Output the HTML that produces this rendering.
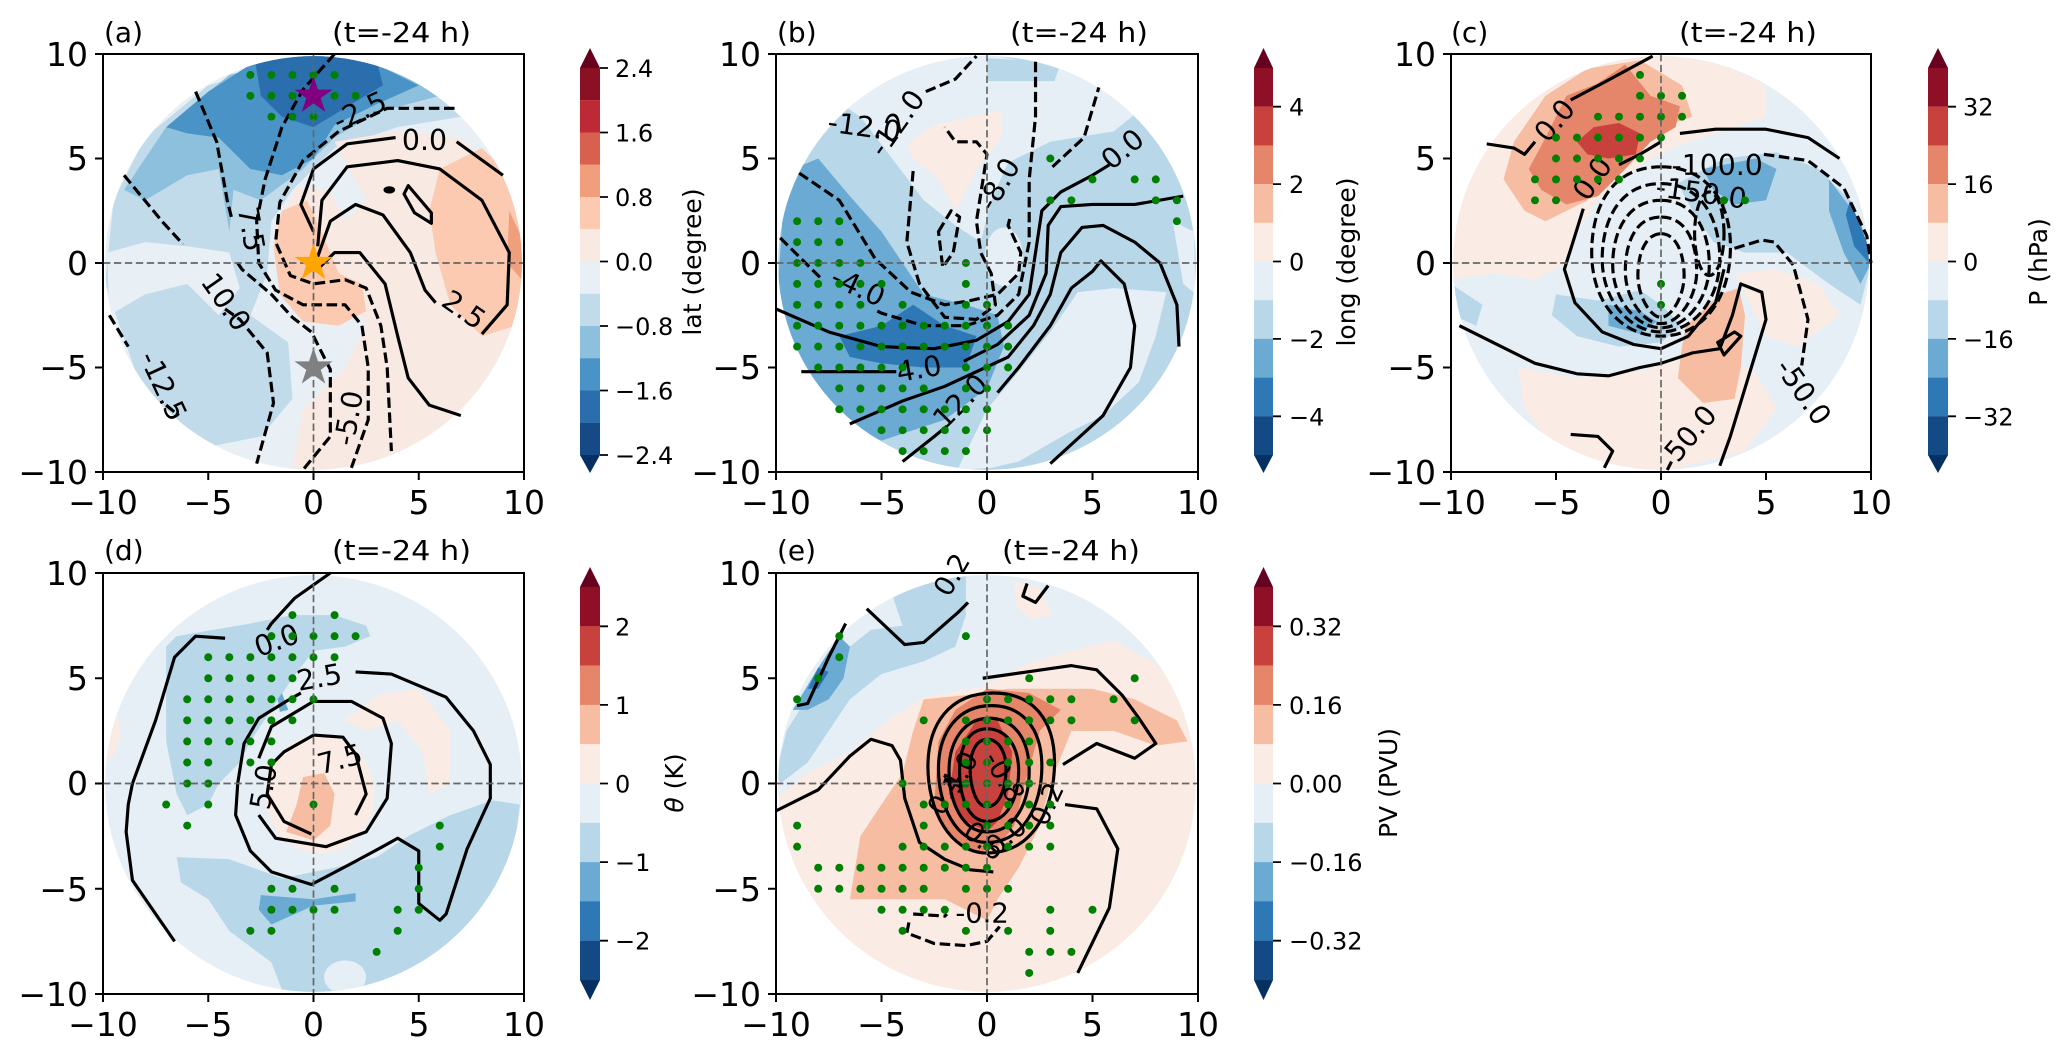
<!DOCTYPE html>
<html><head><meta charset="utf-8"><style>
html,body{margin:0;padding:0;background:#fff}
svg{display:block}
text{font-family:"DejaVu Sans","Liberation Sans",sans-serif;fill:#000}
</style></head><body>
<svg width="2067" height="1053" viewBox="0 0 2067 1053" xmlns="http://www.w3.org/2000/svg">
<defs>
<clipPath id="cc"><circle cx="0" cy="0" r="9.9"/></clipPath>
</defs>
<rect width="2067" height="1053" fill="#fff"/>

<!-- ================= PANEL A ================= -->
<svg x="103" y="54" width="421" height="418" viewBox="-10 -10 20 20" preserveAspectRatio="none" overflow="visible">
<g clip-path="url(#cc)"><g transform="scale(1,-1)">
<circle r="10" fill="#e8f0f6"/>
<path d="M-9.9,-1 L-9.5,3 L-8,6 L-5,8.5 L0,10 L5,8.8 L7,7 L4,6.5 L1,5.5 L-1,3.5 L-2,2 L-2.2,-0.5 L-3,-2.5 L-1.2,-3.8 L-1,-6.5 L-2.5,-8.3 L-5,-8.8 L-8,-6.5 Z" fill="#c2dbeb"/>
<path d="M-9.7,-2.5 L-8,-1.5 L-6,-1 L-4.5,-2.5 L-3.5,-1.2 L-4,0.5 L-6,0.8 L-8,1 L-9.8,0.5 Z" fill="#e8f0f6"/>
<path d="M-9,3.5 L-7,6.5 L-4,9 L0,10 L4,9.3 L6,8 L3,7.2 L1,6 L-0.5,4.5 L-2.5,3 L-3.8,3.5 L-4,1.5 L-4.5,4.5 L-6,4.2 L-8,3 Z" fill="#8cc0dd"/>
<path d="M-7,6.5 L-5,8.2 L-3,9.5 L0,10 L3,9.5 L5,8.5 L3,7.6 L1,6.6 L0,5 L-1.5,4.2 L-3,4.5 L-4.5,6 L-6,6.2 Z" fill="#4a93c6"/>
<path d="M-2.8,9.8 L0,10 L3,9.7 L3.3,8.5 L1.8,7.6 L0,6.5 L-1.5,7 L-2.5,8 Z" fill="#2a6eae"/>
<path d="M1,5.8 L4,6.3 L7,6 L9,4 L10,0 L9.5,-4 L7,-7.5 L4,-9.3 L1,-10 L-1,-9.8 L-0.5,-7 L1.5,-5 L2.5,-3 L1.5,-1.2 L0,-0.8 L-1.5,-0.3 L-1.8,1.8 L-0.8,3.6 L0.8,3.5 L1.5,2 L2.5,3 Z" fill="#f8e9e2"/>
<path d="M-1.9,0.8 L-1.5,2.5 L-0.3,3 L0.5,1.2 L1.2,-0.5 L2.3,-1 L2.5,-2.3 L1.2,-3 L-0.5,-2.8 L-1.6,-1.5 Z" fill="#fbcab0"/>
<path d="M6,4.5 L8,5.5 L9.5,4 L10,0 L9.6,-3 L8,-3.5 L6.5,-2 L5.8,0.5 L5.5,2.5 Z" fill="#fbcab0"/>
<path d="M9.3,2.5 L10,1 L9.9,-0.8 L9.2,0 Z" fill="#f09e7c"/>
</g></g>
<g transform="scale(1,-1)" fill="none" stroke="#000" stroke-width="0.15" stroke-linejoin="round">
<g stroke-dasharray="0.5 0.22">
<polyline points="6.7,7.4 3.5,7.4 1.2,6.3 -0.5,4.9 -1.6,2.9 -1.8,1 -1.1,-0.6 0,-1 1.5,-0.8 2.5,-1.2 3.2,-3 3.5,-5 3.7,-9"/>
<polyline points="1,10 -0.5,8.3 -1.5,6.5 -2.3,4 -2.7,2 -2.6,0 -1.8,-1.3 -0.5,-2 1.5,-2 2.3,-3 2.6,-5 2.6,-7.5 1.8,-9.8"/>
<polyline points="-5.6,8.2 -4.6,5.8 -4.1,3 -3.9,2.2"/>
<polyline points="-3.6,0 -3.4,-0.3 -2,-1.5 -1,-2.6 -0.1,-3.3 0.8,-5.1 0.8,-8.3 -0.5,-9.9"/>
<polyline points="-9,4.2 -7.2,2 -6.2,0.9"/>
<polyline points="-4.2,-2.2 -3.5,-2.7 -2.2,-4.3 -1.9,-6.7 -2.7,-9.6"/>
<polyline points="-9.7,-2.5 -8.8,-4"/>
<polyline points="-7,-6.8 -6.4,-7.3"/>
</g>
<polyline points="0,1.5 -0.6,2.8 0,4.5 1.6,5.7 3.9,6"/>
<polyline points="6.8,5.8 9,4.2"/>
<polyline points="0.2,0.8 0.4,3 1.6,4.6 4,4.9 6,4.5 8,3 9.3,0.5 9.2,-2 8,-3.4"/>
<polyline points="0.2,0.3 0.8,2 2,2.8 3.3,2.3 4.6,0.5 5.3,-1.3 5.8,-1.9"/>
<polyline points="0.2,-0.3 1,0.5 2.2,0.5 3.4,-1 4,-3.5 4.5,-5.5 5.5,-6.8 7,-7.3"/>
<polygon points="4.3,3.3 4.8,2.4 5.6,1.9 5.6,2.4 4.5,3.7"/>
<ellipse cx="3.6" cy="3.5" rx="0.2" ry="0.1" fill="#000"/>
</g>
<g font-size="1.35">
<text x="4.2" y="-5.4">0.0</text>
<text transform="translate(1.2,-6.3) rotate(-25)">-2.5</text>
<text transform="translate(-3.6,-2.6) rotate(80)">7.5</text>
<text transform="translate(-5.4,0.9) rotate(55)">10.0</text>
<text transform="translate(-8.3,4.5) rotate(65)">-12.5</text>
<text transform="translate(1.9,8.8) rotate(-80)">-5.0</text>
<text transform="translate(6.0,2.0) rotate(35)">2.5</text>
</g>
<g transform="scale(1,-1)" fill="#008000">
<circle cx="-3" cy="9" r="0.19"/><circle cx="-2" cy="9" r="0.19"/><circle cx="-1" cy="9" r="0.19"/><circle cx="0" cy="9" r="0.19"/><circle cx="1" cy="9" r="0.19"/>
<circle cx="-3" cy="8" r="0.19"/><circle cx="-2" cy="8" r="0.19"/><circle cx="-1" cy="8" r="0.19"/><circle cx="1" cy="8" r="0.19"/><circle cx="2" cy="8" r="0.19"/>
<circle cx="-2" cy="7" r="0.19"/><circle cx="-1" cy="7" r="0.19"/><circle cx="0" cy="7" r="0.19"/>
</g>
<g stroke="#666" stroke-width="0.08" stroke-dasharray="0.35 0.17"><line x1="-10" y1="0" x2="10" y2="0"/><line x1="0" y1="-10" x2="0" y2="10"/></g>
<g transform="scale(1,-1)">
<polygon transform="translate(0,8) scale(0.95)" points="0,1 0.225,0.31 0.95,0.31 0.36,-0.12 0.59,-0.81 0,-0.38 -0.59,-0.81 -0.36,-0.12 -0.95,0.31 -0.225,0.31" fill="#800080"/>
<polygon transform="translate(0,0) scale(0.95)" points="0,1 0.225,0.31 0.95,0.31 0.36,-0.12 0.59,-0.81 0,-0.38 -0.59,-0.81 -0.36,-0.12 -0.95,0.31 -0.225,0.31" fill="#ffa500"/>
<polygon transform="translate(0,-5) scale(0.95)" points="0,1 0.225,0.31 0.95,0.31 0.36,-0.12 0.59,-0.81 0,-0.38 -0.59,-0.81 -0.36,-0.12 -0.95,0.31 -0.225,0.31" fill="#808080"/>
</g>
</svg>

<!-- ================= PANEL B ================= -->
<svg x="776" y="54" width="422" height="418" viewBox="-10 -10 20 20" preserveAspectRatio="none" overflow="visible">
<g clip-path="url(#cc)"><g transform="scale(1,-1)">
<circle r="10" fill="#b8d7e9"/>
<path d="M-7.5,8 L-5,9.5 L0,10 L5,9 L7.5,7.5 L6,6.3 L3,5.8 L1,4.8 L0.2,3 L-0.3,1 L-1.5,1.8 L-3,3 L-4.5,5 L-6,7 Z" fill="#e6eff5"/>
<path d="M0,9.8 L3.5,9.6 L3.2,8.7 L0,8.7 Z" fill="#b8d7e9"/>
<path d="M-3.8,5.7 L-2.5,6.6 L0.7,7.3 L0.7,6 L-0.5,4.5 L-1.5,2.5 L-2.3,4 L-3.5,5 Z" fill="#faece4"/>
<path d="M-1.4,-9.9 L0,-7 L1.5,-5.2 L3,-3.3 L4.3,-1.4 L6,-1.2 L8.5,-1.4 L8,-3.5 L7.2,-5.7 L5.5,-7.3 L3.9,-8.1 L1.5,-9.5 L0.2,-9.8 Z" fill="#e6eff5"/>
<ellipse cx="0.8" cy="0.3" rx="0.9" ry="1.4" fill="#e6eff5"/>
<path d="M8.8,2 L9.8,1.5 L9.9,-1.5 L9.3,-1 Z" fill="#e6eff5"/>
<path d="M-9.9,-1 L-9.7,2 L-9.2,4.5 L-8,5 L-6.5,3.2 L-5,1.5 L-4,0 L-3,-1.5 L-1,-2 L0.5,-2.5 L0.8,-4 L0,-6 L-2,-7.5 L-5,-8.5 L-7.5,-7.5 L-9,-5 L-9.8,-3 Z" fill="#6aaad3"/>
<path d="M-7,-3.5 L-5,-3 L-3.5,-2 L-2,-3 L-0.5,-3.5 L-1,-5 L-3,-5 L-5,-4.8 L-6.5,-4.5 Z" fill="#2f78b6"/>
</g></g>
<g transform="scale(1,-1)" fill="none" stroke="#000" stroke-width="0.15" stroke-linejoin="round">
<g stroke-dasharray="0.5 0.22">
<polyline points="-8.9,4.3 -7,3 -5.3,0.2 -3.6,-1.4 -2,-2 -0.8,-1.8 0.5,-1.5 1.5,-0.5 1.6,0.5 1,1.8 1.1,2.2"/>
<polyline points="3.1,4.6 4.6,6 5.3,8.4"/>
<polyline points="-9.8,1.2 -8.6,0 -7.8,-0.8"/>
<polyline points="-5.2,-2.3 -5,-2.4 -3,-3 -1,-3 0.5,-2.5 1.5,-1.5 2,1 2,4 2.3,7 2.3,9.7"/>
<polyline points="-3.5,4.4 -3.8,1 -3.2,-1 -2,-2.6 -0.5,-2.7 0.4,-2 0.2,-0.5 -0.3,0.5 -0.5,2 0,5.2 -0.5,5.8 -1.5,5.8 -2,6.5"/>
<polyline points="-2.9,8.2 -1.5,8.8 -0.5,9.9"/>
<polygon points="-2.3,1.5 -1.7,2.5 -1.3,2.2 -1.6,0.5 -2.1,-0.2"/>
</g>
<polyline points="-10,-2.2 -7.5,-3.3 -5,-4 -2.5,-4.1 -0.5,-3.7 1,-2.8 2,-1.5 2.3,0.5 2.6,2.5 3.5,3.4 5,4.2 5.8,4.7"/>
<polyline points="-8.8,-5.2 -6,-5.2 -4.3,-5.2"/>
<polyline points="-1.1,-4.7 0.5,-3.9 2,-2.5 2.8,-0.5 2.9,1.8 3.5,2.7 5,2.8 7,2.8 9.3,3.2"/>
<polyline points="-6.5,-7.7 -4,-6.6 -2,-5.9 -0.5,-5.2 1,-4.5 2.2,-3 3,-1.5 3.5,0.5 4.5,1.7 5.5,1.8 7,1 8.2,0 9,-2 9.1,-4"/>
<polyline points="-4,-9.5 -2.5,-8.3 -1.9,-7.8"/>
<polyline points="0.5,-6.2 1.5,-5 3,-3 4,-1.2 5,-0.4 5.4,0.1 6.5,-1 7,-3 6.8,-5 5.5,-7.3 3,-9.6"/>
</g>
<g font-size="1.35">
<text transform="translate(-7.6,-6.3) rotate(8)">-12.0</text>
<text transform="translate(-4.9,-5.0) rotate(-55)">-12.0</text>
<text transform="translate(0.3,-2.4) rotate(-60)">-8.0</text>
<text transform="translate(5.9,-4.4) rotate(-40)">0.0</text>
<text transform="translate(-7.5,1.0) rotate(25)">-4.0</text>
<text transform="translate(-4.2,5.7) rotate(-10)">4.0</text>
<text transform="translate(-2.0,8.0) rotate(-45)">12.0</text>
</g>
<g transform="scale(1,-1)" fill="#008000">
<circle cx="-9" cy="2" r="0.19"/><circle cx="-8" cy="2" r="0.19"/><circle cx="-7" cy="2" r="0.19"/>
<circle cx="-9" cy="1" r="0.19"/><circle cx="-8" cy="1" r="0.19"/><circle cx="-7" cy="1" r="0.19"/>
<circle cx="-9" cy="0" r="0.19"/><circle cx="-8" cy="0" r="0.19"/><circle cx="-7" cy="0" r="0.19"/><circle cx="-6" cy="0" r="0.19"/><circle cx="-1" cy="0" r="0.19"/>
<circle cx="-9" cy="-1" r="0.19"/><circle cx="-8" cy="-1" r="0.19"/><circle cx="-7" cy="-1" r="0.19"/><circle cx="-6" cy="-1" r="0.19"/><circle cx="-5" cy="-1" r="0.19"/><circle cx="-1" cy="-1" r="0.19"/>
<circle cx="-9" cy="-2" r="0.19"/><circle cx="-8" cy="-2" r="0.19"/><circle cx="-7" cy="-2" r="0.19"/><circle cx="-6" cy="-2" r="0.19"/><circle cx="-4" cy="-2" r="0.19"/><circle cx="-1" cy="-2" r="0.19"/><circle cx="0" cy="-2" r="0.19"/>
<circle cx="-9" cy="-3" r="0.19"/><circle cx="-8" cy="-3" r="0.19"/><circle cx="-7" cy="-3" r="0.19"/><circle cx="-6" cy="-3" r="0.19"/><circle cx="-5" cy="-3" r="0.19"/><circle cx="-4" cy="-3" r="0.19"/><circle cx="-3" cy="-3" r="0.19"/><circle cx="-2" cy="-3" r="0.19"/><circle cx="-1" cy="-3" r="0.19"/><circle cx="0" cy="-3" r="0.19"/><circle cx="1" cy="-3" r="0.19"/>
<circle cx="-9" cy="-4" r="0.19"/><circle cx="-8" cy="-4" r="0.19"/><circle cx="-7" cy="-4" r="0.19"/><circle cx="-6" cy="-4" r="0.19"/><circle cx="-5" cy="-4" r="0.19"/><circle cx="-4" cy="-4" r="0.19"/><circle cx="-3" cy="-4" r="0.19"/><circle cx="-2" cy="-4" r="0.19"/><circle cx="-1" cy="-4" r="0.19"/><circle cx="0" cy="-4" r="0.19"/><circle cx="1" cy="-4" r="0.19"/>
<circle cx="-8" cy="-5" r="0.19"/><circle cx="-7" cy="-5" r="0.19"/><circle cx="-6" cy="-5" r="0.19"/><circle cx="-5" cy="-5" r="0.19"/><circle cx="-4" cy="-5" r="0.19"/><circle cx="-1" cy="-5" r="0.19"/><circle cx="0" cy="-5" r="0.19"/><circle cx="1" cy="-5" r="0.19"/>
<circle cx="-7" cy="-6" r="0.19"/><circle cx="-6" cy="-6" r="0.19"/><circle cx="-5" cy="-6" r="0.19"/><circle cx="-4" cy="-6" r="0.19"/><circle cx="-3" cy="-6" r="0.19"/><circle cx="-1" cy="-6" r="0.19"/><circle cx="0" cy="-6" r="0.19"/>
<circle cx="-7" cy="-7" r="0.19"/><circle cx="-6" cy="-7" r="0.19"/><circle cx="-5" cy="-7" r="0.19"/><circle cx="-4" cy="-7" r="0.19"/><circle cx="-3" cy="-7" r="0.19"/><circle cx="-2" cy="-7" r="0.19"/><circle cx="-1" cy="-7" r="0.19"/><circle cx="0" cy="-7" r="0.19"/>
<circle cx="-5" cy="-8" r="0.19"/><circle cx="-4" cy="-8" r="0.19"/><circle cx="-3" cy="-8" r="0.19"/><circle cx="-2" cy="-8" r="0.19"/><circle cx="-1" cy="-8" r="0.19"/><circle cx="0" cy="-8" r="0.19"/>
<circle cx="-4" cy="-9" r="0.19"/><circle cx="-3" cy="-9" r="0.19"/><circle cx="-2" cy="-9" r="0.19"/><circle cx="-1" cy="-9" r="0.19"/>
<circle cx="3" cy="5" r="0.19"/><circle cx="5" cy="4" r="0.19"/><circle cx="7" cy="4" r="0.19"/><circle cx="8" cy="4" r="0.19"/>
<circle cx="3" cy="3" r="0.19"/><circle cx="4" cy="3" r="0.19"/><circle cx="8" cy="3" r="0.19"/><circle cx="9" cy="3" r="0.19"/><circle cx="9" cy="2" r="0.19"/>
</g>
<g stroke="#666" stroke-width="0.08" stroke-dasharray="0.35 0.17"><line x1="-10" y1="0" x2="10" y2="0"/><line x1="0" y1="-10" x2="0" y2="10"/></g>
</svg>

<!-- ================= PANEL C ================= -->
<svg x="1451" y="54" width="420" height="418" viewBox="-10 -10 20 20" preserveAspectRatio="none" overflow="visible">
<g clip-path="url(#cc)"><g transform="scale(1,-1)">
<circle r="10" fill="#e6eff5"/>
<path d="M-9.9,1 L-9.5,4 L-8,6.5 L-6,8.5 L-3,9.7 L0,10 L3,9.5 L5,8.5 L5,7 L3,6.3 L1,5.7 L-0.5,5 L-2,4 L-3,3 L-4,1.5 L-4.5,0 L-6,-0.8 L-8,-0.5 L-9.9,-0.8 Z" fill="#faece4"/>
<path d="M-6.8,-5 L-4,-5.5 L-1,-5.2 L1,-4.6 L3,-4.5 L4.5,-5.2 L5.5,-7 L4,-9 L0,-10 L-3,-9.6 L-5.5,-8.3 L-6.5,-7 Z" fill="#faece4"/>
<path d="M3.5,-0.5 L5.5,-0.3 L7.5,-1 L8.5,-2.5 L6.5,-4 L5,-3.5 Z" fill="#faece4"/>
<path d="M-7,5.8 L-5.5,8 L-3.5,9.3 L-1,9.7 L1,8.5 L1.5,7 L0,6.5 L-1,5.5 L-2.5,4.5 L-3.5,3 L-5.5,2 L-6.5,2.5 L-7.5,4 Z" fill="#f6bda2"/>
<path d="M1.2,-3 L2.8,-1.5 L3.7,-1.2 L4,-2.5 L3.8,-5 L3.5,-6.5 L2,-6.7 L0.8,-5.5 L1,-4 Z" fill="#f6bda2"/>
<path d="M-5.5,6 L-4.5,8 L-3,8.6 L-1.7,9.5 L-0.5,8 L0.9,7.5 L0.7,6.5 L-0.5,5.8 L-1.7,4.5 L-3,3.2 L-4.5,2.8 L-5.7,3.5 L-6.3,4.5 Z" fill="#e5866a"/>
<path d="M-4,5.8 L-3.2,6.5 L-2,6.7 L-1,6.2 L-1.2,5.2 L-2.5,5 L-3.5,5.2 Z" fill="#c9413d"/>
<path d="M0.8,3.8 L3,5 L5.5,5.3 L7.5,4.5 L9,3 L10,0 L9.5,-2 L8,-1 L6,0.5 L4,0.5 L2.5,1 L1.5,2.5 Z" fill="#b8d7e9"/>
<path d="M-5,-1.5 L-3,-1.8 L-1,-1.3 L0,-2 L1,-3 L0,-3.8 L-2,-4 L-4,-3.5 L-5.2,-2.5 Z" fill="#b8d7e9"/>
<path d="M-10,-1 L-8.5,-2 L-8.8,-3 L-9.9,-2.5 Z" fill="#b8d7e9"/>
<path d="M2,4.5 L4.5,5 L5.5,4.5 L5,3 L3.5,2.8 L2.5,3.5 Z" fill="#6aaad3"/>
<path d="M8,4 L9.5,2 L10,0 L9.5,-1 L8.7,0.5 L8,2.5 Z" fill="#6aaad3"/>
<path d="M-2.5,-2 L-1,-2.3 L-0.2,-2.8 L-1,-3.4 L-2.5,-3 Z" fill="#6aaad3"/>
<path d="M9,3 L9.8,1 L9.9,0 L9.2,0.8 L8.8,2.3 Z" fill="#2f78b6"/>
</g></g>
<g transform="scale(1,-1)" fill="none" stroke="#000" stroke-width="0.15" stroke-linejoin="round">
<polyline points="-8.3,5.7 -7,5.5 -6.5,5.2 -6,5.8"/>
<polyline points="-4.3,7.8 -2.6,8.7 -0.4,9.9"/>
<polyline points="0.9,6.2 2.6,6.4 5,6.4 7,6 8.5,5"/>
<polyline points="0,5.8 -1,5.2 -2,4.7"/>
<polyline points="-3.7,2.6 -4.1,1.3 -4.6,-0.3 -4.1,-1.9 -2.8,-3.3 -1.3,-3.9 0,-4.1 1.3,-3.5 2.6,-1.9 3,-0.3"/>
<polyline points="-9.6,-3 -8,-3.8 -6,-4.8 -4,-5.3 -2.5,-5.4 -1,-5 0,-4.8 1.5,-4.3 2.8,-4.1 3.4,-2.5 3.8,-1 4.8,-1.4 5,-2.7 4.3,-5 3.3,-8.3 2.8,-9.7"/>
<polyline points="-4.3,-8.2 -3,-8.3 -2.3,-9 -2.7,-9.8"/>
<polyline points="0.3,-9.9 0.5,-9.5"/>
<polygon points="2.7,-3.8 3.5,-3.3 3.8,-3.5 3,-4.4"/>
<g stroke-dasharray="0.5 0.22">
<polyline points="4.9,5.2 7,4.9 8.7,3.6 9.8,1.3 10,0"/>
<polyline points="3.5,0.7 4.8,1.1 5.4,1 6.3,-0.1 7,-2.7 6.7,-4.9"/>
<path d="M0,4.6 C2.5,4.6 3.4,2.5 3.3,0.5 C3.2,-2 1.8,-3.5 0,-3.5 C-1.8,-3.5 -3.3,-2 -3.3,0.5 C-3.3,2.5 -2.5,4.6 0,4.6 Z"/>
<path d="M0,3.8 C2,3.8 2.8,2 2.8,0.2 C2.8,-1.8 1.5,-3.3 0,-3.3 C-1.5,-3.3 -2.8,-1.8 -2.8,0.2 C-2.8,2 -2,3.8 0,3.8 Z"/>
<path d="M0,3 C1.6,3 2.3,1.5 2.3,-0.1 C2.3,-1.7 1.2,-3.1 0,-3.1 C-1.2,-3.1 -2.3,-1.7 -2.3,-0.1 C-2.3,1.5 -1.6,3 0,3 Z"/>
<path d="M0,2.2 C1.2,2.2 1.7,1 1.7,-0.4 C1.7,-1.6 0.9,-2.9 0,-2.9 C-0.9,-2.9 -1.7,-1.6 -1.7,-0.4 C-1.7,1 -1.2,2.2 0,2.2 Z"/>
<path d="M0,1.4 C0.7,1.4 1.1,0.5 1.1,-0.6 C1.1,-1.6 0.5,-2.6 0,-2.6 C-0.5,-2.6 -1.1,-1.6 -1.1,-0.6 C-1.1,0.5 -0.7,1.4 0,1.4 Z"/>
<ellipse cx="2.3" cy="1.4" rx="0.7" ry="2.0"/>
</g>
</g>
<g font-size="1.35">
<text transform="translate(-5.4,-5.7) rotate(-50)">0.0</text>
<text transform="translate(-3.5,-2.9) rotate(-55)">0.0</text>
<text x="0.5" y="-4.2">-100.0</text>
<text transform="translate(-0.3,-3.2) rotate(8)">-150.0</text>
<text transform="translate(0.8,9.6) rotate(-50)">50.0</text>
<text transform="translate(5.4,5.0) rotate(55)">-50.0</text>
</g>
<g transform="scale(1,-1)" fill="#008000">
<circle cx="-1" cy="9" r="0.19"/>
<circle cx="-1" cy="8" r="0.19"/><circle cx="0" cy="8" r="0.19"/><circle cx="1" cy="8" r="0.19"/>
<circle cx="-3" cy="7" r="0.19"/><circle cx="-2" cy="7" r="0.19"/><circle cx="-1" cy="7" r="0.19"/><circle cx="0" cy="7" r="0.19"/><circle cx="1" cy="7" r="0.19"/>
<circle cx="-5" cy="6" r="0.19"/><circle cx="-4" cy="6" r="0.19"/><circle cx="-3" cy="6" r="0.19"/><circle cx="-2" cy="6" r="0.19"/><circle cx="-1" cy="6" r="0.19"/><circle cx="0" cy="6" r="0.19"/>
<circle cx="-5" cy="5" r="0.19"/><circle cx="-4" cy="5" r="0.19"/><circle cx="-3" cy="5" r="0.19"/><circle cx="-2" cy="5" r="0.19"/><circle cx="-1" cy="5" r="0.19"/>
<circle cx="-6" cy="4" r="0.19"/><circle cx="-5" cy="4" r="0.19"/><circle cx="-4" cy="4" r="0.19"/><circle cx="-3" cy="4" r="0.19"/><circle cx="-2" cy="4" r="0.19"/>
<circle cx="-6" cy="3" r="0.19"/><circle cx="-5" cy="3" r="0.19"/><circle cx="3" cy="3" r="0.19"/><circle cx="4" cy="3" r="0.19"/>
<circle cx="0" cy="-1" r="0.19"/><circle cx="0" cy="-2" r="0.19"/>
</g>
<g stroke="#666" stroke-width="0.08" stroke-dasharray="0.35 0.17"><line x1="-10" y1="0" x2="10" y2="0"/><line x1="0" y1="-10" x2="0" y2="10"/></g>
</svg>

<!-- ================= PANEL D ================= -->
<svg x="103" y="573" width="421" height="421" viewBox="-10 -10 20 20" preserveAspectRatio="none" overflow="visible">
<g clip-path="url(#cc)"><g transform="scale(1,-1)">
<circle r="10" fill="#e6eff5"/>
<path d="M-7,6.5 L-6.5,7 L-3,7.6 L-1,8 L1,8 L2.5,7.5 L2.7,7 L1.5,6.5 L0,6.3 L-1,5 L-2,3.5 L-3,2 L-3.5,1 L-4.5,0 L-5,-1 L-6,-1.5 L-6.5,-0.5 L-7,2 L-7,4.5 Z" fill="#b8d7e9"/>
<path d="M-6.5,-3.5 L-4,-3.6 L-1.5,-4.5 L1,-4 L3,-3.5 L4.5,-2.5 L6.5,-1.5 L8.5,-0.8 L9.8,-1 L9.5,-3.5 L8,-6.5 L5.5,-8.7 L2,-10 L0,-10 L-1.5,-9.8 L-2,-8.5 L-4,-7 L-5,-5.5 L-6.3,-4.7 Z" fill="#b8d7e9"/>
<ellipse cx="1.5" cy="-9.2" rx="1" ry="0.8" fill="#e6eff5"/>
<path d="M-2.5,-5.3 L0,-5.5 L2,-5.2 L2,-5.6 L0,-5.8 L-2,-6.7 L-2.6,-6 Z" fill="#6aaad3"/>
<path d="M-1.7,4 L-1.5,4.3 L-1.2,3.5 L-1.6,3.4 Z" fill="#6aaad3"/>
<ellipse cx="0.3" cy="-0.5" rx="2.6" ry="2.8" fill="#faece4"/>
<path d="M1.5,3 L3,4.2 L5,4.5 L6.5,2.5 L6.5,0 L5.5,-0.5 L5.2,1.5 L4,3 L2.5,2.5 Z" fill="#faece4"/>
<ellipse cx="-9.8" cy="2.5" rx="0.6" ry="1.3" fill="#faece4"/>
<path d="M-0.5,0.3 L0.5,0.5 L1,-0.5 L0.8,-2 L0,-2.7 L-1.3,-2.3 L-0.8,-1 Z" fill="#f6bda2"/>
</g></g>
<g transform="scale(1,-1)" fill="none" stroke="#000" stroke-width="0.15" stroke-linejoin="round">
<polyline points="0.8,10 -0.9,8.8 -2,7.6 -2.2,7.3"/>
<polyline points="-4.2,6.9 -5.6,7 -6.6,6 -7.5,3 -8.6,0 -8.8,-1 -8.9,-2.3 -8.6,-4.6 -6.6,-7.5"/>
<polyline points="2,5.3 3.7,5.2 6.3,4.1 7.6,2.5 8.4,0.9 8.4,-0.7 7.3,-3.1 6.3,-6.2 6,-6.5 5,-5.7 5,-3.2 4,-2.6 3.1,-3.1 1.8,-3.8 -0.1,-4.8 -2,-4.2 -3,-3.2 -3.7,-1.5 -3.6,0 -3.3,1.9 -2.6,3.1 -1.3,3.9 -0.6,4.3"/>
<polyline points="-2.6,1.2 -2,2.7 0,3.9 1.8,3.9 3.3,3.1 3.7,1.9 3.5,-0.7 2.5,-2.3 0.6,-3 -1.8,-2.6 -2.6,-1.5"/>
<polyline points="0,2.3 1.4,2.2 2,1.4 2.5,-0.5 2,-1.5"/>
<polyline points="-0.1,-2.4 -1.4,-1.8 -2.2,-0.5 -2,0.9 -1.4,1.5 0,2.3"/>
</g>
<g font-size="1.35">
<text transform="translate(-2.6,-6.0) rotate(-20)">0.0</text>
<text transform="translate(-0.7,-4.4) rotate(-10)">2.5</text>
<text transform="translate(-2.1,1.3) rotate(-80)">5.0</text>
<text transform="translate(0.1,-1.3) rotate(-15)" dy="0.9">7.5</text>
</g>
<g transform="scale(1,-1)" fill="#008000">
<circle cx="-1" cy="8" r="0.19"/><circle cx="1" cy="8" r="0.19"/>
<circle cx="-2" cy="7" r="0.19"/><circle cx="-1" cy="7" r="0.19"/><circle cx="0" cy="7" r="0.19"/><circle cx="1" cy="7" r="0.19"/><circle cx="2" cy="7" r="0.19"/>
<circle cx="-5" cy="6" r="0.19"/><circle cx="-4" cy="6" r="0.19"/><circle cx="-3" cy="6" r="0.19"/><circle cx="-2" cy="6" r="0.19"/><circle cx="-1" cy="6" r="0.19"/><circle cx="0" cy="6" r="0.19"/><circle cx="1" cy="6" r="0.19"/>
<circle cx="-5" cy="5" r="0.19"/><circle cx="-4" cy="5" r="0.19"/><circle cx="-3" cy="5" r="0.19"/><circle cx="-2" cy="5" r="0.19"/><circle cx="-1" cy="5" r="0.19"/>
<circle cx="-6" cy="4" r="0.19"/><circle cx="-5" cy="4" r="0.19"/><circle cx="-4" cy="4" r="0.19"/><circle cx="-3" cy="4" r="0.19"/><circle cx="-2" cy="4" r="0.19"/><circle cx="-1" cy="4" r="0.19"/><circle cx="0" cy="4" r="0.19"/>
<circle cx="-6" cy="3" r="0.19"/><circle cx="-5" cy="3" r="0.19"/><circle cx="-4" cy="3" r="0.19"/><circle cx="-3" cy="3" r="0.19"/><circle cx="-2" cy="3" r="0.19"/><circle cx="-1" cy="3" r="0.19"/>
<circle cx="-6" cy="2" r="0.19"/><circle cx="-5" cy="2" r="0.19"/><circle cx="-4" cy="2" r="0.19"/><circle cx="-3" cy="2" r="0.19"/><circle cx="-2" cy="2" r="0.19"/>
<circle cx="-6" cy="1" r="0.19"/><circle cx="-5" cy="1" r="0.19"/><circle cx="-3" cy="1" r="0.19"/><circle cx="-2" cy="1" r="0.19"/>
<circle cx="-6" cy="0" r="0.19"/><circle cx="-5" cy="0" r="0.19"/>
<circle cx="-7" cy="-1" r="0.19"/><circle cx="-5" cy="-1" r="0.19"/><circle cx="0" cy="-1" r="0.19"/>
<circle cx="-6" cy="-2" r="0.19"/><circle cx="6" cy="-2" r="0.19"/><circle cx="6" cy="-3" r="0.19"/><circle cx="5" cy="-4" r="0.19"/>
<circle cx="-2" cy="-5" r="0.19"/><circle cx="-1" cy="-5" r="0.19"/><circle cx="1" cy="-5" r="0.19"/><circle cx="5" cy="-5" r="0.19"/>
<circle cx="-2" cy="-6" r="0.19"/><circle cx="-1" cy="-6" r="0.19"/><circle cx="0" cy="-6" r="0.19"/><circle cx="1" cy="-6" r="0.19"/><circle cx="4" cy="-6" r="0.19"/><circle cx="5" cy="-6" r="0.19"/>
<circle cx="-3" cy="-7" r="0.19"/><circle cx="-2" cy="-7" r="0.19"/><circle cx="4" cy="-7" r="0.19"/><circle cx="3" cy="-8" r="0.19"/>
</g>
<g stroke="#666" stroke-width="0.08" stroke-dasharray="0.35 0.17"><line x1="-10" y1="0" x2="10" y2="0"/><line x1="0" y1="-10" x2="0" y2="10"/></g>
</svg>

<!-- ================= PANEL E ================= -->
<svg x="776" y="573" width="422" height="421" viewBox="-10 -10 20 20" preserveAspectRatio="none" overflow="visible">
<g clip-path="url(#cc)"><g transform="scale(1,-1)">
<circle r="10" fill="#faece4"/>
<path d="M-10,-0.7 L-8.5,0.5 L-6.5,1.5 L-4.7,3 L-3,4.1 L-0.2,4.6 L1.9,5.7 L4,6.3 L6,6.8 L8,5.7 L9.3,4.1 L9.5,6 L6,9 L3,9.8 L0,10 L-3,9.8 L-6,8.5 L-8.5,6 L-9.8,2 Z" fill="#e6eff5"/>
<path d="M1.3,9.6 L2.5,9.3 L3.1,8 L2,7.8 L1.4,8.5 Z" fill="#faece4"/>
<path d="M-10,0.5 L-9.5,2.5 L-7.5,5.7 L-5.5,7.3 L-4,7.5 L-4.5,9 L-2.5,9.7 L-1,9.9 L-1,8 L-1.5,6.5 L-3,5.8 L-5,5.2 L-6.5,4 L-7.5,2.5 L-8.5,1 L-9.8,0 Z" fill="#b8d7e9"/>
<path d="M-9.2,3.5 L-8,5.5 L-7,7 L-6.5,6.5 L-6.8,5 L-7.5,4 L-8.5,3.5 Z" fill="#6aaad3"/>
<path d="M-8.5,4.5 L-8,5.5 L-7.5,5.3 L-8,4.5 Z" fill="#2f78b6"/>
<path d="M-6.5,-5.5 L-6,-2.5 L-5,-1 L-4,0.5 L-3.5,2.5 L-3,4 L-1,4.2 L1,4.5 L3,4.5 L5,4.5 L7,4 L9,3 L9.5,2 L8,1.8 L6,2.5 L4,2.5 L3,0 L2.5,-2 L1.5,-4 L0.5,-5.5 L0,-6.5 L-2,-5.5 L-4.5,-5.5 Z" fill="#f6bda2"/>
<path d="M-2.5,-1 L-2.3,2 L-1.5,3.5 L0,4.5 L2,4.3 L3.5,3.5 L2.5,2.5 L1.8,0 L1.3,-2 L0.5,-3 L-0.5,-3.3 L-1.8,-2.5 Z" fill="#e5866a"/>
<path d="M-1.8,-0.5 L-1.5,1.5 L-0.5,3 L0.5,3 L1.2,1.5 L1,-0.5 L0.5,-1.8 L0,-2.3 L-1,-1.8 Z" fill="#c9413d"/>
</g></g>
<g transform="scale(1,-1)" fill="none" stroke="#000" stroke-width="0.15" stroke-linejoin="round">
<polyline points="-10,-1.3 -8,-0.3 -6.5,1.3 -5.5,2.1 -4.5,1.8 -4.1,1.1 -3.9,-0.7 -3.2,-2.8 -2,-3.6 -0.8,-4.1 0.3,-4.2"/>
<polyline points="3.7,-1 5.2,-1.2 6.2,-3.1 5.8,-5.9 4.3,-9"/>
<polyline points="-0.2,5 1.9,5.3 4,5.6 5.2,5.4 6.4,4.2 7.2,3.1 8,1.9 7,1.2 5.2,1.9 3.6,0.9"/>
<polyline points="-9,3.7 -8.5,3.8 -7.5,6 -6.7,7.6"/>
<polyline points="-5.7,8.3 -3.9,6.6 -3,6.7 -1.4,8.1 -0.9,8.6"/>
<polyline points="1.9,9.5 1.7,8.9 2.3,8.6 2.9,9.4"/>
<path d="M0,-3.3 C2.3,-3.3 3.2,-1 3.2,1 C3.2,3 2.2,4.3 0.3,4.3 C-1.8,4.3 -2.8,2.8 -2.8,0.8 C-2.8,-1.2 -1.8,-3.3 0,-3.3 Z"/>
<path d="M0,-2.8 C1.8,-2.8 2.6,-0.9 2.6,0.8 C2.6,2.6 1.7,3.7 0.2,3.7 C-1.4,3.7 -2.3,2.4 -2.3,0.7 C-2.3,-1 -1.5,-2.8 0,-2.8 Z"/>
<path d="M0,-2.3 C1.4,-2.3 2,-0.8 2,0.6 C2,2.1 1.3,3.1 0.1,3.1 C-1.1,3.1 -1.8,2 -1.8,0.6 C-1.8,-0.8 -1.2,-2.3 0,-2.3 Z"/>
<path d="M0,-1.8 C1,-1.8 1.5,-0.6 1.5,0.6 C1.5,1.8 0.9,2.6 0,2.6 C-0.9,2.6 -1.3,1.7 -1.3,0.6 C-1.3,-0.6 -0.9,-1.8 0,-1.8 Z"/>
<path d="M0,-1.1 C0.6,-1.1 0.9,-0.2 0.9,0.7 C0.9,1.6 0.5,2.1 0,2.1 C-0.5,2.1 -0.8,1.5 -0.8,0.7 C-0.8,-0.2 -0.5,-1.1 0,-1.1 Z"/>
<g stroke-dasharray="0.5 0.22">
<polyline points="-3.5,-6.2 -2,-6.3 -1.9,-6.2"/>
<polyline points="-3.7,-6.6 -3.8,-7.1 -2.5,-7.6 -1,-7.7 0,-7.5 0.6,-6.8"/>
</g>
</g>
<g font-size="1.3">
<text transform="translate(0.4,3.5) rotate(-40)">0.0</text>
<text transform="translate(-1.8,-8.8) rotate(-60)">0.2</text>
<text transform="translate(2.8,2.1) rotate(-65)">0.2</text>
<text transform="translate(-2.1,1.6) rotate(-60)">0.4</text>
<text transform="translate(-1.4,0.6) rotate(-60)">1.0</text>
<text transform="translate(-0.2,-1.2) rotate(60)">-0.8</text>
<text transform="translate(-1.2,2.4) rotate(40)">0.6</text>
<text x="-1.5" y="6.6">-0.2</text>
</g>
<g transform="scale(1,-1)" fill="#008000">
<circle cx="-7" cy="7" r="0.19"/><circle cx="-1" cy="7" r="0.19"/><circle cx="-7" cy="6" r="0.19"/>
<circle cx="-8" cy="5" r="0.19"/><circle cx="2" cy="5" r="0.19"/><circle cx="7" cy="5" r="0.19"/>
<circle cx="-9" cy="4" r="0.19"/><circle cx="0" cy="4" r="0.19"/><circle cx="1" cy="4" r="0.19"/><circle cx="2" cy="4" r="0.19"/><circle cx="3" cy="4" r="0.19"/><circle cx="4" cy="4" r="0.19"/><circle cx="6" cy="4" r="0.19"/>
<circle cx="-3" cy="3" r="0.19"/><circle cx="-1" cy="3" r="0.19"/><circle cx="0" cy="3" r="0.19"/><circle cx="1" cy="3" r="0.19"/><circle cx="2" cy="3" r="0.19"/><circle cx="3" cy="3" r="0.19"/><circle cx="4" cy="3" r="0.19"/><circle cx="7" cy="3" r="0.19"/>
<circle cx="-1" cy="2" r="0.19"/><circle cx="0" cy="2" r="0.19"/><circle cx="1" cy="2" r="0.19"/><circle cx="2" cy="2" r="0.19"/>
<circle cx="-1" cy="1" r="0.19"/><circle cx="0" cy="1" r="0.19"/><circle cx="1" cy="1" r="0.19"/><circle cx="2" cy="1" r="0.19"/><circle cx="3" cy="1" r="0.19"/>
<circle cx="-4" cy="0" r="0.19"/><circle cx="-1" cy="0" r="0.19"/><circle cx="0" cy="0" r="0.19"/><circle cx="1" cy="0" r="0.19"/><circle cx="2" cy="0" r="0.19"/>
<circle cx="-3" cy="-1" r="0.19"/><circle cx="-2" cy="-1" r="0.19"/><circle cx="-1" cy="-1" r="0.19"/><circle cx="0" cy="-1" r="0.19"/><circle cx="1" cy="-1" r="0.19"/><circle cx="2" cy="-1" r="0.19"/><circle cx="3" cy="-1" r="0.19"/>
<circle cx="-9" cy="-2" r="0.19"/><circle cx="-3" cy="-2" r="0.19"/><circle cx="0" cy="-2" r="0.19"/><circle cx="1" cy="-2" r="0.19"/><circle cx="2" cy="-2" r="0.19"/><circle cx="3" cy="-2" r="0.19"/>
<circle cx="-9" cy="-3" r="0.19"/><circle cx="-4" cy="-3" r="0.19"/><circle cx="-3" cy="-3" r="0.19"/><circle cx="-2" cy="-3" r="0.19"/><circle cx="-1" cy="-3" r="0.19"/><circle cx="0" cy="-3" r="0.19"/><circle cx="1" cy="-3" r="0.19"/><circle cx="2" cy="-3" r="0.19"/><circle cx="3" cy="-3" r="0.19"/>
<circle cx="-8" cy="-4" r="0.19"/><circle cx="-7" cy="-4" r="0.19"/><circle cx="-6" cy="-4" r="0.19"/><circle cx="-5" cy="-4" r="0.19"/><circle cx="-4" cy="-4" r="0.19"/><circle cx="-3" cy="-4" r="0.19"/><circle cx="-2" cy="-4" r="0.19"/><circle cx="-1" cy="-4" r="0.19"/><circle cx="0" cy="-4" r="0.19"/>
<circle cx="-8" cy="-5" r="0.19"/><circle cx="-7" cy="-5" r="0.19"/><circle cx="-6" cy="-5" r="0.19"/><circle cx="-5" cy="-5" r="0.19"/><circle cx="-4" cy="-5" r="0.19"/><circle cx="-3" cy="-5" r="0.19"/><circle cx="-1" cy="-5" r="0.19"/><circle cx="0" cy="-5" r="0.19"/><circle cx="1" cy="-5" r="0.19"/>
<circle cx="-5" cy="-6" r="0.19"/><circle cx="-4" cy="-6" r="0.19"/><circle cx="-3" cy="-6" r="0.19"/><circle cx="-2" cy="-6" r="0.19"/><circle cx="3" cy="-6" r="0.19"/><circle cx="5" cy="-6" r="0.19"/>
<circle cx="-4" cy="-7" r="0.19"/><circle cx="-1" cy="-7" r="0.19"/><circle cx="1" cy="-7" r="0.19"/><circle cx="3" cy="-7" r="0.19"/>
<circle cx="2" cy="-8" r="0.19"/><circle cx="3" cy="-8" r="0.19"/><circle cx="4" cy="-8" r="0.19"/><circle cx="2" cy="-9" r="0.19"/>
</g>
<g stroke="#666" stroke-width="0.08" stroke-dasharray="0.35 0.17"><line x1="-10" y1="0" x2="10" y2="0"/><line x1="0" y1="-10" x2="0" y2="10"/></g>
</svg>

<!-- ================= AXES FRAMES, TICKS ================= -->
<g fill="none" stroke="#000" stroke-width="2">
<rect x="103" y="54" width="421" height="418"/>
<rect x="776" y="54" width="422" height="418"/>
<rect x="1451" y="54" width="420" height="418"/>
<rect x="103" y="573" width="421" height="421"/>
<rect x="776" y="573" width="422" height="421"/>
<path d="M103,472v8M208.25,472v8M313.5,472v8M418.75,472v8M524,472v8"/>
<path d="M776,472v8M881.5,472v8M987,472v8M1092.5,472v8M1198,472v8"/>
<path d="M1451,472v8M1556,472v8M1661,472v8M1766,472v8M1871,472v8"/>
<path d="M103,994v8M208.25,994v8M313.5,994v8M418.75,994v8M524,994v8"/>
<path d="M776,994v8M881.5,994v8M987,994v8M1092.5,994v8M1198,994v8"/>
<path d="M103,54h-8M103,158.5h-8M103,263h-8M103,367.5h-8M103,472h-8"/>
<path d="M776,54h-8M776,158.5h-8M776,263h-8M776,367.5h-8M776,472h-8"/>
<path d="M1451,54h-8M1451,158.5h-8M1451,263h-8M1451,367.5h-8M1451,472h-8"/>
<path d="M103,573h-8M103,678.25h-8M103,783.5h-8M103,888.75h-8M103,994h-8"/>
<path d="M776,573h-8M776,678.25h-8M776,783.5h-8M776,888.75h-8M776,994h-8"/>
</g>

<g font-size="33" text-anchor="middle">
<text x="103" y="514">−10</text><text x="208" y="514">−5</text><text x="313.5" y="514">0</text><text x="419" y="514">5</text><text x="524" y="514">10</text>
<text x="776" y="514">−10</text><text x="881.5" y="514">−5</text><text x="987" y="514">0</text><text x="1092.5" y="514">5</text><text x="1198" y="514">10</text>
<text x="1451" y="514">−10</text><text x="1556" y="514">−5</text><text x="1661" y="514">0</text><text x="1766" y="514">5</text><text x="1871" y="514">10</text>
<text x="103" y="1036">−10</text><text x="208" y="1036">−5</text><text x="313.5" y="1036">0</text><text x="419" y="1036">5</text><text x="524" y="1036">10</text>
<text x="776" y="1036">−10</text><text x="881.5" y="1036">−5</text><text x="987" y="1036">0</text><text x="1092.5" y="1036">5</text><text x="1198" y="1036">10</text>
</g>
<g font-size="33" text-anchor="end">
<text x="88" y="66">10</text><text x="88" y="170">5</text><text x="88" y="275">0</text><text x="88" y="379">−5</text><text x="88" y="484">−10</text>
<text x="761" y="66">10</text><text x="761" y="170">5</text><text x="761" y="275">0</text><text x="761" y="379">−5</text><text x="761" y="484">−10</text>
<text x="1436" y="66">10</text><text x="1436" y="170">5</text><text x="1436" y="275">0</text><text x="1436" y="379">−5</text><text x="1436" y="484">−10</text>
<text x="88" y="585">10</text><text x="88" y="690">5</text><text x="88" y="795">0</text><text x="88" y="901">−5</text><text x="88" y="1006">−10</text>
<text x="761" y="585">10</text><text x="761" y="690">5</text><text x="761" y="795">0</text><text x="761" y="901">−5</text><text x="761" y="1006">−10</text>
</g>

<!-- titles -->
<g font-size="28">
<text x="104" y="42">(a)</text><text x="332" y="42" textLength="139" lengthAdjust="spacingAndGlyphs">(t=-24 h)</text>
<text x="777" y="42">(b)</text><text x="1010" y="42" textLength="138" lengthAdjust="spacingAndGlyphs">(t=-24 h)</text>
<text x="1451" y="42">(c)</text><text x="1679" y="42" textLength="138" lengthAdjust="spacingAndGlyphs">(t=-24 h)</text>
<text x="104" y="560">(d)</text><text x="332" y="560" textLength="139" lengthAdjust="spacingAndGlyphs">(t=-24 h)</text>
<text x="777" y="560">(e)</text><text x="1002" y="560" textLength="138" lengthAdjust="spacingAndGlyphs">(t=-24 h)</text>
</g>

<!-- ================= COLORBARS ================= -->
<g>
<polygon points="580,68 600,68 590,48" fill="#67001f"/>
<polygon points="580,455 600,455 590,473" fill="#053061"/>
<rect x="580" y="68" width="20" height="32.3" fill="#8a1024"/>
<rect x="580" y="100.2" width="20" height="32.3" fill="#bd2a35"/>
<rect x="580" y="132.5" width="20" height="32.3" fill="#d8604f"/>
<rect x="580" y="164.7" width="20" height="32.3" fill="#f09e7c"/>
<rect x="580" y="197" width="20" height="32.3" fill="#fbcab0"/>
<rect x="580" y="229.2" width="20" height="32.3" fill="#f8e9e2"/>
<rect x="580" y="261.5" width="20" height="32.3" fill="#e8f0f6"/>
<rect x="580" y="293.7" width="20" height="32.3" fill="#c2dbeb"/>
<rect x="580" y="326" width="20" height="32.3" fill="#8cc0dd"/>
<rect x="580" y="358.2" width="20" height="32.3" fill="#4a93c6"/>
<rect x="580" y="390.5" width="20" height="32.3" fill="#2a6eae"/>
<rect x="580" y="422.7" width="20" height="32.3" fill="#164a86"/>
<path d="M600,68h8M600,132.5h8M600,197h8M600,261.5h8M600,326h8M600,390.5h8M600,455h8" stroke="#000" stroke-width="1.8"/>
<g font-size="24"><text x="615" y="77">2.4</text><text x="615" y="141.5">1.6</text><text x="615" y="206">0.8</text><text x="615" y="270.5">0.0</text><text x="615" y="335">−0.8</text><text x="615" y="399.5">−1.6</text><text x="615" y="464">−2.4</text></g>
<text transform="translate(701,262) rotate(-90)" font-size="25" text-anchor="middle">lat (degree)</text>
</g>

<g>
<polygon points="1254,68 1273,68 1263.5,48" fill="#67001f"/>
<polygon points="1254,455 1273,455 1263.5,473" fill="#053061"/>
<rect x="1254" y="68" width="19" height="38.8" fill="#8f1026"/>
<rect x="1254" y="106.7" width="19" height="38.8" fill="#c9413d"/>
<rect x="1254" y="145.4" width="19" height="38.8" fill="#e5866a"/>
<rect x="1254" y="184.1" width="19" height="38.8" fill="#f6bda2"/>
<rect x="1254" y="222.8" width="19" height="38.8" fill="#faece4"/>
<rect x="1254" y="261.5" width="19" height="38.8" fill="#e6eff5"/>
<rect x="1254" y="300.2" width="19" height="38.8" fill="#b8d7e9"/>
<rect x="1254" y="338.9" width="19" height="38.8" fill="#6aaad3"/>
<rect x="1254" y="377.6" width="19" height="38.8" fill="#2f78b6"/>
<rect x="1254" y="416.3" width="19" height="38.8" fill="#134a86"/>
<path d="M1273,106.7h8M1273,184.1h8M1273,261.5h8M1273,338.9h8M1273,416.3h8" stroke="#000" stroke-width="1.8"/>
<g font-size="24"><text x="1289" y="115.7">4</text><text x="1289" y="193.1">2</text><text x="1289" y="270.5">0</text><text x="1289" y="347.9">−2</text><text x="1289" y="425.3">−4</text></g>
<text transform="translate(1355,262) rotate(-90)" font-size="25" text-anchor="middle">long (degree)</text>
</g>

<g>
<polygon points="1928,68 1948,68 1938,48" fill="#67001f"/>
<polygon points="1928,455 1948,455 1938,473" fill="#053061"/>
<rect x="1928" y="68" width="20" height="38.8" fill="#8f1026"/>
<rect x="1928" y="106.7" width="20" height="38.8" fill="#c9413d"/>
<rect x="1928" y="145.4" width="20" height="38.8" fill="#e5866a"/>
<rect x="1928" y="184.1" width="20" height="38.8" fill="#f6bda2"/>
<rect x="1928" y="222.8" width="20" height="38.8" fill="#faece4"/>
<rect x="1928" y="261.5" width="20" height="38.8" fill="#e6eff5"/>
<rect x="1928" y="300.2" width="20" height="38.8" fill="#b8d7e9"/>
<rect x="1928" y="338.9" width="20" height="38.8" fill="#6aaad3"/>
<rect x="1928" y="377.6" width="20" height="38.8" fill="#2f78b6"/>
<rect x="1928" y="416.3" width="20" height="38.8" fill="#134a86"/>
<path d="M1948,106.7h8M1948,184.1h8M1948,261.5h8M1948,338.9h8M1948,416.3h8" stroke="#000" stroke-width="1.8"/>
<g font-size="24"><text x="1963" y="115.7">32</text><text x="1963" y="193.1">16</text><text x="1963" y="270.5">0</text><text x="1963" y="347.9">−16</text><text x="1963" y="425.3">−32</text></g>
<text transform="translate(2047,262) rotate(-90)" font-size="25" text-anchor="middle">P (hPa)</text>
</g>

<g>
<polygon points="580,587 600,587 590,567" fill="#67001f"/>
<polygon points="580,980 600,980 590,1000" fill="#053061"/>
<rect x="580" y="587" width="20" height="39.4" fill="#8f1026"/>
<rect x="580" y="626.3" width="20" height="39.4" fill="#c9413d"/>
<rect x="580" y="665.6" width="20" height="39.4" fill="#e5866a"/>
<rect x="580" y="704.9" width="20" height="39.4" fill="#f6bda2"/>
<rect x="580" y="744.2" width="20" height="39.4" fill="#faece4"/>
<rect x="580" y="783.5" width="20" height="39.4" fill="#e6eff5"/>
<rect x="580" y="822.8" width="20" height="39.4" fill="#b8d7e9"/>
<rect x="580" y="862.1" width="20" height="39.4" fill="#6aaad3"/>
<rect x="580" y="901.4" width="20" height="39.4" fill="#2f78b6"/>
<rect x="580" y="940.7" width="20" height="39.4" fill="#134a86"/>
<path d="M600,626.3h8M600,704.9h8M600,783.5h8M600,862.1h8M600,940.7h8" stroke="#000" stroke-width="1.8"/>
<g font-size="24"><text x="615" y="635.3">2</text><text x="615" y="713.9">1</text><text x="615" y="792.5">0</text><text x="615" y="871.1">−1</text><text x="615" y="949.7">−2</text></g>
<text transform="translate(683,783) rotate(-90)" font-size="25" text-anchor="middle"><tspan font-style="italic">θ</tspan> (K)</text>
</g>

<g>
<polygon points="1254,587 1273,587 1263.5,567" fill="#67001f"/>
<polygon points="1254,980 1273,980 1263.5,1000" fill="#053061"/>
<rect x="1254" y="587" width="19" height="39.4" fill="#8f1026"/>
<rect x="1254" y="626.3" width="19" height="39.4" fill="#c9413d"/>
<rect x="1254" y="665.6" width="19" height="39.4" fill="#e5866a"/>
<rect x="1254" y="704.9" width="19" height="39.4" fill="#f6bda2"/>
<rect x="1254" y="744.2" width="19" height="39.4" fill="#faece4"/>
<rect x="1254" y="783.5" width="19" height="39.4" fill="#e6eff5"/>
<rect x="1254" y="822.8" width="19" height="39.4" fill="#b8d7e9"/>
<rect x="1254" y="862.1" width="19" height="39.4" fill="#6aaad3"/>
<rect x="1254" y="901.4" width="19" height="39.4" fill="#2f78b6"/>
<rect x="1254" y="940.7" width="19" height="39.4" fill="#134a86"/>
<path d="M1273,626.3h8M1273,704.9h8M1273,783.5h8M1273,862.1h8M1273,940.7h8" stroke="#000" stroke-width="1.8"/>
<g font-size="24"><text x="1289" y="635.3">0.32</text><text x="1289" y="713.9">0.16</text><text x="1289" y="792.5">0.00</text><text x="1289" y="871.1">−0.16</text><text x="1289" y="949.7">−0.32</text></g>
<text transform="translate(1397,783) rotate(-90)" font-size="25" text-anchor="middle">PV (PVU)</text>
</g>
</svg>
</body></html>
